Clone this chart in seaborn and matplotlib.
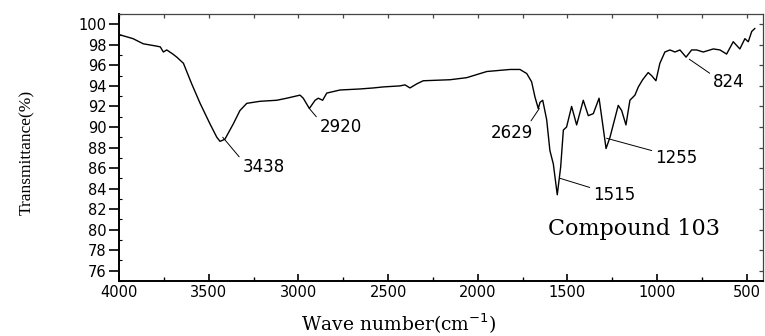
import pandas as pd
import matplotlib
matplotlib.use("Agg")
import matplotlib.pyplot as plt
from matplotlib.ticker import MultipleLocator, NullFormatter
import seaborn as sns

# IR spectrum
wavenumber = [4000, 3922, 3865, 3799, 3770, 3753, 3734, 3700, 3678, 3641,
              3595, 3548, 3493, 3455, 3437, 3410, 3363, 3326, 3288, 3214,
              3121, 3065, 2991, 2973, 2939, 2907, 2889, 2865, 2842, 2768,
              2657, 2582, 2527, 2434, 2406, 2378, 2340, 2304, 2155, 2062,
              1950, 1820, 1765, 1727, 1700, 1681, 1663, 1653, 1638, 1616,
              1598, 1579, 1557, 1538, 1523, 1505, 1477, 1449, 1412, 1384,
              1356, 1324, 1304, 1285, 1263, 1217, 1198, 1174, 1152, 1124,
              1105, 1081, 1050, 1031, 1007, 985, 957, 929, 901, 873,
              839, 808, 780, 743, 687, 650, 613, 576, 539, 511,
              492, 473, 455]
transmittance = [99.0, 98.6, 98.1, 97.9, 97.8, 97.3, 97.5, 97.1, 96.8, 96.2,
                 94.2, 92.3, 90.3, 89.0, 88.6, 88.8, 90.3, 91.6, 92.3, 92.5,
                 92.6, 92.8, 93.1, 92.8, 91.8, 92.6, 92.8, 92.6, 93.3, 93.6,
                 93.7, 93.8, 93.9, 94.0, 94.1, 93.8, 94.2, 94.5, 94.6, 94.8,
                 95.4, 95.6, 95.6, 95.2, 94.4, 92.9, 91.8, 92.4, 92.6, 90.7,
                 87.7, 86.4, 83.4, 86.1, 89.7, 90.0, 92.0, 90.2, 92.6, 91.1,
                 91.3, 92.8, 90.3, 87.9, 89.0, 92.1, 91.6, 90.2, 92.6, 93.1,
                 93.9, 94.6, 95.3, 95.0, 94.5, 96.2, 97.3, 97.5, 97.3, 97.5,
                 96.8, 97.5, 97.5, 97.3, 97.6, 97.5, 97.1, 98.3, 97.6, 98.6,
                 98.3, 99.3, 99.6]

# peak labels: text, point on curve, text anchor
peak_labels = ["3438", "2920", "2629", "1255", "1515", "824"]
peak_xy = [(3422, 89.0), (2939, 91.8), (1657, 91.8), (1282, 88.9), (1542, 85.0), (821, 96.6)]
label_xy = [(3312, 86.1), (2882, 90.0), (1692, 89.4), (1012, 87.0), (1358, 83.4), (689, 94.4)]

df = pd.DataFrame({"wavenumber": wavenumber, "transmittance": transmittance})

sns.set_style("ticks")
plt.rcParams["font.family"] = ["DejaVu Sans"]
plt.rcParams["text.color"] = "black"
plt.rcParams["axes.labelcolor"] = "black"
plt.rcParams["xtick.color"] = "black"
plt.rcParams["ytick.color"] = "black"
plt.rcParams["axes.edgecolor"] = "black"

fig = plt.figure(figsize=(7.65, 3.36), dpi=100)
ax = fig.add_axes([0.1556, 0.1637, 0.8418, 0.7946])

sns.lineplot(data=df, x="wavenumber", y="transmittance", color="black",
             linewidth=1.0, ax=ax)

ax.set_xlim(4000, 410)
ax.set_ylim(75, 101)
ax.xaxis.set_major_locator(MultipleLocator(500))
ax.xaxis.set_minor_locator(MultipleLocator(250))
ax.yaxis.set_minor_locator(MultipleLocator(1))
ax.set_yticks(range(76, 101, 2))

ax.tick_params(axis="x", which="major", direction="in", length=5, width=1.2,
               labelsize=10.5, pad=3)
ax.tick_params(axis="x", which="minor", direction="in", length=3, width=1.0)
ax.tick_params(axis="y", which="major", direction="out", length=7, width=1.2,
               labelsize=10.5, pad=2)
ax.tick_params(axis="y", which="minor", direction="in", length=2, width=0.8)

for side in ["left", "bottom"]:
    ax.spines[side].set_linewidth(1.4)
for side in ["top", "right"]:
    ax.spines[side].set_visible(True)
    ax.spines[side].set_linewidth(0.9)
    ax.spines[side].set_color("#444444")

top = ax.secondary_xaxis("top")
top.xaxis.set_major_locator(MultipleLocator(250))
top.xaxis.set_major_formatter(NullFormatter())
top.tick_params(direction="in", length=3, width=0.9, color="#444444")
top.spines["top"].set_visible(False)
right = ax.secondary_yaxis("right")
right.yaxis.set_major_locator(MultipleLocator(2))
right.yaxis.set_major_formatter(NullFormatter())
right.tick_params(direction="in", length=3, width=0.9, color="#444444")
right.spines["right"].set_visible(False)

ax.set_xlabel("Wave number(cm$^{-1}$)", family="DejaVu Serif", fontsize=13.5)
ax.xaxis.set_label_coords(0.435, -0.115)
ax.set_ylabel("Transmittance(%)", family="Liberation Serif", fontsize=12.5)
ax.yaxis.set_label_coords(-0.13, 0.483)

for text, xy, xyt in zip(peak_labels, peak_xy, label_xy):
    ha = "right" if text == "2629" else "left"
    relpos = (0.9, 1.0) if text == "2629" else (0.0, 0.85)
    ax.annotate(text, xy=xy, xytext=xyt, ha=ha, va="center", fontsize=12,
                arrowprops=dict(arrowstyle="-", color="black", lw=0.7,
                                shrinkA=0, shrinkB=0, relpos=relpos))

ax.text(1609, 80.1, "Compound 103", family="DejaVu Serif", fontsize=16,
        ha="left", va="center")

fig.savefig("out.png", dpi=100)
